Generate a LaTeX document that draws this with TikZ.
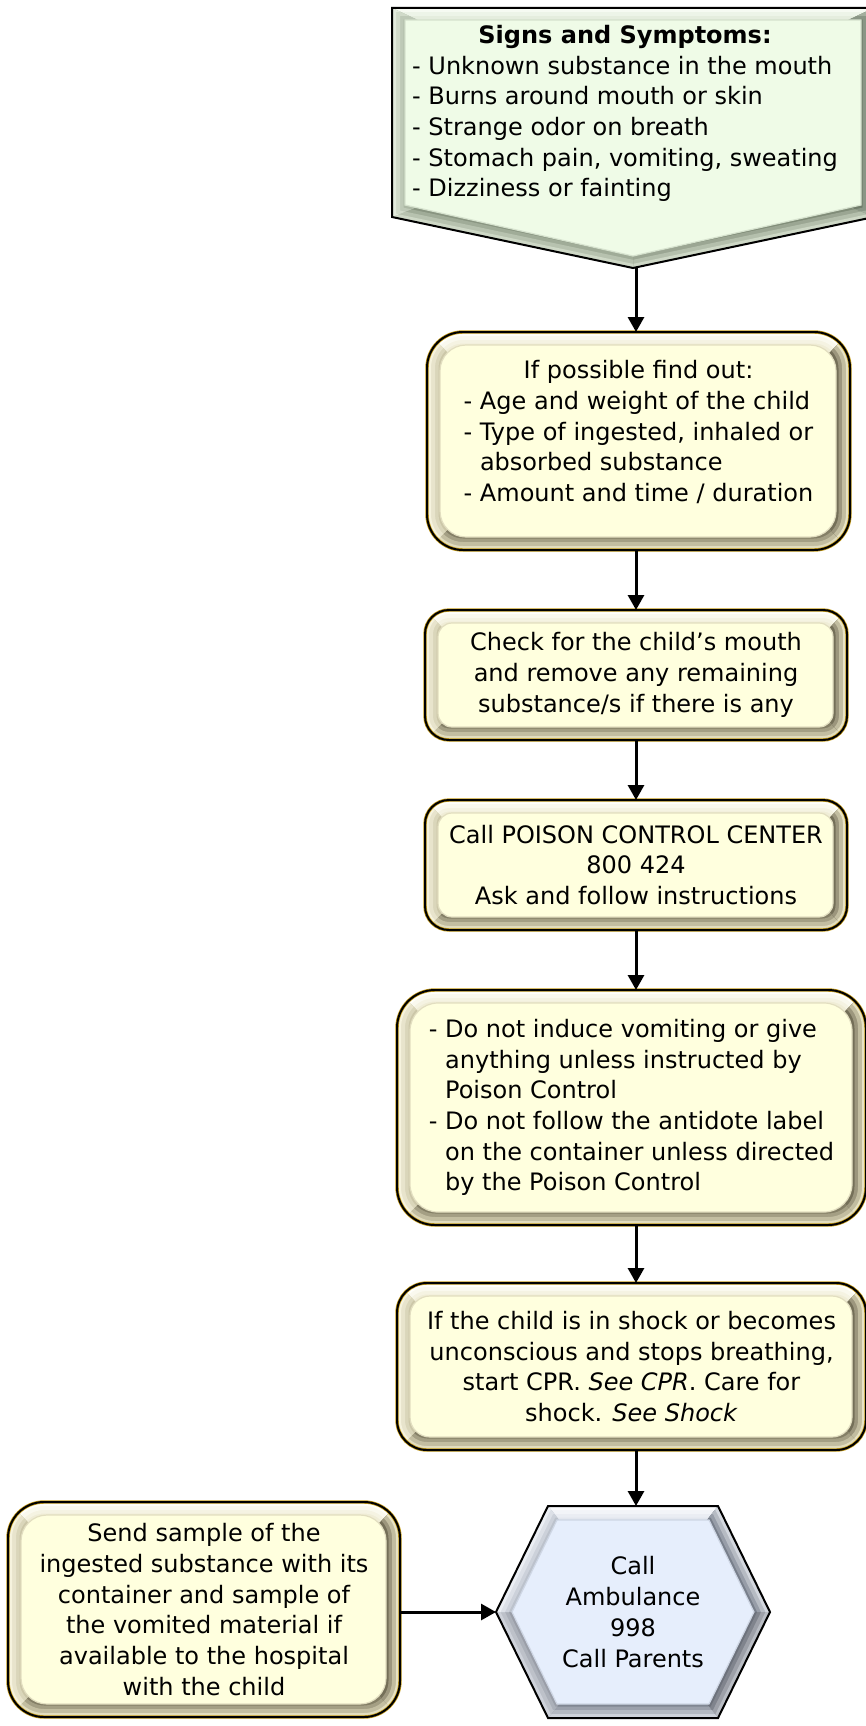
\documentclass[tikz,border=0pt]{standalone}
\usepackage{fontspec}
\setmainfont{DejaVu Sans}
\usetikzlibrary{arrows.meta}

% bevelled yellow boxes
\definecolor{ylface}{RGB}{255,255,222}
\definecolor{yledge}{RGB}{226,222,192}
\definecolor{yltopin}{RGB}{240,237,214}
\definecolor{yltopout}{RGB}{255,255,250}
\definecolor{ylleftin}{RGB}{204,199,168}
\definecolor{ylleftout}{RGB}{246,243,222}
\definecolor{ylrightin}{RGB}{116,111,88}
\definecolor{ylrightout}{RGB}{232,227,196}
\definecolor{ylbotin}{RGB}{132,127,102}
\definecolor{ylbotout}{RGB}{226,221,190}
\definecolor{ylgold}{RGB}{196,154,24}
% green pentagon
\definecolor{gnface}{RGB}{239,251,231}
\definecolor{gnedge}{RGB}{214,226,206}
\definecolor{gntopin}{RGB}{220,230,212}
\definecolor{gntopout}{RGB}{246,250,242}
\definecolor{gnleftin}{RGB}{172,184,164}
\definecolor{gnleftout}{RGB}{226,234,220}
\definecolor{gnrightin}{RGB}{112,124,106}
\definecolor{gnrightout}{RGB}{190,200,184}
\definecolor{gnbotin}{RGB}{128,140,120}
\definecolor{gnbotout}{RGB}{206,216,198}
% blue hexagon
\definecolor{blface}{RGB}{230,238,252}
\definecolor{bledge}{RGB}{206,214,228}
\definecolor{bltopin}{RGB}{226,230,238}
\definecolor{bltopout}{RGB}{250,251,253}
\definecolor{blulin}{RGB}{188,194,204}
\definecolor{blulout}{RGB}{236,239,244}
\definecolor{blurin}{RGB}{120,127,139}
\definecolor{blurout}{RGB}{212,216,223}
\definecolor{bllowin}{RGB}{128,134,146}
\definecolor{bllowout}{RGB}{206,210,218}

\tikzset{
  boxtext/.style={font=\fontsize{24pt}{30.7pt}\selectfont, inner sep=0pt, text=black},
  frame/.style={inner sep=0pt, outer sep=0pt},
  flow/.style={line width=3pt, -{Triangle[width=16pt,length=15pt]}},
}

% one side of a bevel: #1 clip region of the side, #2 outline path,
% #3 colour next to the face, #4 colour next to the outline
\newcommand\bandfill[4]{%
  \begin{scope}
    \clip #1;
    \draw[#3, line width=30pt, line join=miter, miter limit=20] #2;
    \draw[#3!66!#4, line width=23pt, line join=miter, miter limit=20] #2;
    \draw[#3!33!#4, line width=16pt, line join=miter, miter limit=20] #2;
    \draw[#4, line width=8pt, line join=miter, miter limit=20] #2;
  \end{scope}}

% #1 name, #2 left, #3 top, #4 right, #5 bottom, #6 corner radius,
% #7 text options, #8 text
\newcommand\ybevel[8]{%
  \pgfmathsetmacro\bvh{(#5-#3)/2}%
  \pgfmathsetmacro\bvc{(#3+#5)/2}%
  \pgfmathsetmacro\bvm{(#2+#4)/2}%
  \pgfmathsetmacro\bvw{#4-#2}%
  \pgfmathsetmacro\bvht{#5-#3}%
  \pgfmathsetmacro\bvr{#6-10}%
  \begin{scope}
    \clip[rounded corners=#6pt] (#2,#3) rectangle (#4,#5);
    \fill[ylface] (#2,#3) rectangle (#4,#5);
    \bandfill{(#2,#3) -- (#4,#3) -- ({#4-\bvh},\bvc) -- ({#2+\bvh},\bvc) -- cycle}
      {[rounded corners=#6pt] (#2,#3) rectangle (#4,#5)}{yltopin}{yltopout}
    \bandfill{(#2,#5) -- (#4,#5) -- ({#4-\bvh},\bvc) -- ({#2+\bvh},\bvc) -- cycle}
      {[rounded corners=#6pt] (#2,#3) rectangle (#4,#5)}{ylbotin}{ylbotout}
    \bandfill{(#2,#3) -- ({#2+\bvh},\bvc) -- (#2,#5) -- cycle}
      {[rounded corners=#6pt] (#2,#3) rectangle (#4,#5)}{ylleftin}{ylleftout}
    \bandfill{(#4,#3) -- ({#4-\bvh},\bvc) -- (#4,#5) -- cycle}
      {[rounded corners=#6pt] (#2,#3) rectangle (#4,#5)}{ylrightin}{ylrightout}
  \end{scope}
  \fill[ylface, draw=yledge, line width=1.2pt, rounded corners=\bvr pt]
    ({#2+13},{#3+13}) rectangle ({#4-14},{#5-13});
  \draw[ylgold, line width=3.4pt, rounded corners=#6pt] (#2,#3) rectangle (#4,#5);
  \draw[black, line width=2pt, rounded corners=#6pt] (#2,#3) rectangle (#4,#5);
  \node[frame, minimum width=\bvw pt, minimum height=\bvht pt] (#1) at (\bvm,\bvc) {};
  \node[boxtext, #7] (#1-text) at (#1) {#8};
}

\begin{document}
\begin{tikzpicture}[x=1pt,y=-1pt]
\useasboundingbox (0,0) rectangle (866,1726);
\fill[white] (0,0) rectangle (866,1726);

% ---- signs and symptoms (pentagon pointing down)
\begin{scope}
  \clip (392,8) -- (874,8) -- (874,217) -- (633,268) -- (392,217) -- cycle;
  \bandfill{(392,8) -- (874,8) -- (633,120) -- cycle}
    {(392,8) -- (874,8) -- (874,217) -- (633,268) -- (392,217) -- cycle}{gntopin}{gntopout}
  \bandfill{(874,8) -- (874,217) -- (633,120) -- cycle}
    {(392,8) -- (874,8) -- (874,217) -- (633,268) -- (392,217) -- cycle}{gnrightin}{gnrightout}
  \bandfill{(874,217) -- (633,268) -- (633,120) -- cycle}
    {(392,8) -- (874,8) -- (874,217) -- (633,268) -- (392,217) -- cycle}{gnbotin}{gnbotout}
  \bandfill{(633,268) -- (392,217) -- (633,120) -- cycle}
    {(392,8) -- (874,8) -- (874,217) -- (633,268) -- (392,217) -- cycle}{gnbotin!80!gnleftin}{gnbotout}
  \bandfill{(392,217) -- (392,8) -- (633,120) -- cycle}
    {(392,8) -- (874,8) -- (874,217) -- (633,268) -- (392,217) -- cycle}{gnleftin}{gnleftout}
\end{scope}
\fill[gnface, draw=gnedge, line width=1.2pt]
  (405,20) -- (861,20) -- (861,205) -- (633,256) -- (405,205) -- cycle;
\draw[black, line width=2pt, line join=miter]
  (392,8) -- (874,8) -- (874,217) -- (633,268) -- (392,217) -- cycle;
\node[boxtext] (signs) at (625,114) {%
  \begin{tabular}{@{}l@{}}
  \multicolumn{1}{@{}c@{}}{\bfseries Signs and Symptoms:}\\
  - Unknown substance in the mouth\\
  - Burns around mouth or skin\\
  - Strange odor on breath\\
  - Stomach pain, vomiting, sweating\\
  - Dizziness or fainting
  \end{tabular}};
\coordinate (signs tip) at (633,268);

% ---- step boxes
\ybevel{find}{427}{332}{850}{550}{36}{yshift=7pt}{%
  \begin{tabular}{@{}l@{}}
  \multicolumn{1}{@{}c@{}}{If possible find out:}\\
  - Age and weight of the child\\
  - Type of ingested, inhaled or\\
  \phantom{- }absorbed substance\\
  - Amount and time / duration
  \end{tabular}}

\ybevel{check}{425}{610}{847}{740}{24}{align=center}{%
  Check for the child’s mouth\\
  and remove any remaining\\
  substance/s if there is any}

\ybevel{poison}{425}{800}{847}{930}{24}{align=center}{%
  Call POISON CONTROL CENTER\\
  800 424\\
  Ask and follow instructions}

\ybevel{donot}{397}{990}{866}{1225}{38}{align=left}{%
  - Do not induce vomiting or give\\
  \phantom{- }anything unless instructed by\\
  \phantom{- }Poison Control\\
  - Do not follow the antidote label\\
  \phantom{- }on the container unless directed\\
  \phantom{- }by the Poison Control}

\ybevel{shock}{397}{1283}{866}{1450}{30}{align=center}{%
  If the child is in shock or becomes\\
  unconscious and stops breathing,\\
  start CPR. \textit{See CPR}. Care for\\
  shock. \textit{See Shock}}

\ybevel{sample}{8}{1502}{400}{1717}{36}{align=center}{%
  Send sample of the\\
  ingested substance with its\\
  container and sample of\\
  the vomited material if\\
  available to the hospital\\
  with the child}

% ---- call ambulance (hexagon)
\begin{scope}
  \clip (496,1612) -- (548,1506) -- (718,1506) -- (770,1612) -- (718,1718) -- (548,1718) -- cycle;
  \bandfill{(548,1506) -- (718,1506) -- (633,1612) -- cycle}
    {(496,1612) -- (548,1506) -- (718,1506) -- (770,1612) -- (718,1718) -- (548,1718) -- cycle}{bltopin}{bltopout}
  \bandfill{(718,1506) -- (770,1612) -- (633,1612) -- cycle}
    {(496,1612) -- (548,1506) -- (718,1506) -- (770,1612) -- (718,1718) -- (548,1718) -- cycle}{blurin}{blurout}
  \bandfill{(770,1612) -- (718,1718) -- (633,1612) -- cycle}
    {(496,1612) -- (548,1506) -- (718,1506) -- (770,1612) -- (718,1718) -- (548,1718) -- cycle}{bllowin!85!black}{bllowout!90!black}
  \bandfill{(718,1718) -- (548,1718) -- (633,1612) -- cycle}
    {(496,1612) -- (548,1506) -- (718,1506) -- (770,1612) -- (718,1718) -- (548,1718) -- cycle}{bllowin}{bllowout}
  \bandfill{(548,1718) -- (496,1612) -- (633,1612) -- cycle}
    {(496,1612) -- (548,1506) -- (718,1506) -- (770,1612) -- (718,1718) -- (548,1718) -- cycle}{bllowin!80!white}{bllowout}
  \bandfill{(496,1612) -- (548,1506) -- (633,1612) -- cycle}
    {(496,1612) -- (548,1506) -- (718,1506) -- (770,1612) -- (718,1718) -- (548,1718) -- cycle}{blulin}{blulout}
\end{scope}
\fill[blface, draw=bledge, line width=1.2pt]
  (512,1612) -- (557,1520) -- (709,1520) -- (754,1612) -- (709,1704) -- (557,1704) -- cycle;
\draw[black, line width=2pt, line join=miter]
  (496,1612) -- (548,1506) -- (718,1506) -- (770,1612) -- (718,1718) -- (548,1718) -- cycle;
\node[frame, minimum width=274pt, minimum height=212pt] (amb) at (633,1612) {};
\node[boxtext, align=center] (amb-text) at (amb) {Call\\Ambulance\\998\\Call Parents};

% ---- connectors
\coordinate (spine) at (636,0);
\draw[flow] (spine |- signs tip) -- (spine |- find.north);
\draw[flow] (spine |- find.south) -- (spine |- check.north);
\draw[flow] (spine |- check.south) -- (spine |- poison.north);
\draw[flow] (spine |- poison.south) -- (spine |- donot.north);
\draw[flow] (spine |- donot.south) -- (spine |- shock.north);
\draw[flow] (spine |- shock.south) -- (spine |- amb.north);
\draw[flow] (sample.east |- amb.west) -- (amb.west);
\end{tikzpicture}
\end{document}
